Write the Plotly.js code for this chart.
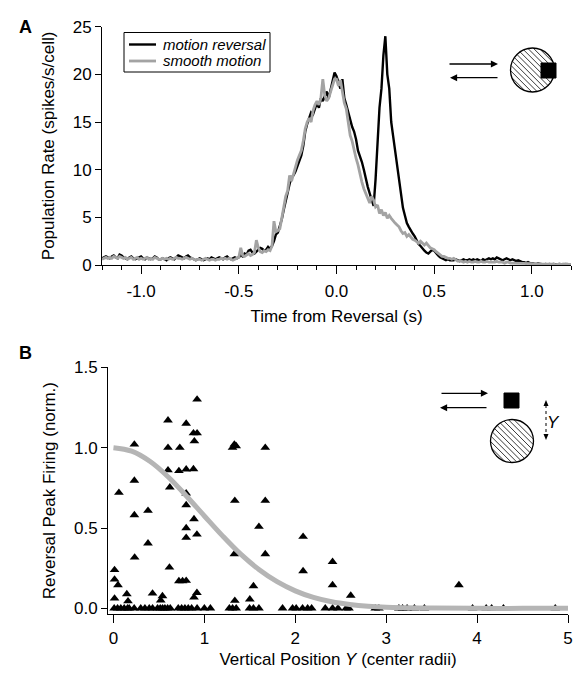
<!DOCTYPE html>
<html>
<head>
<meta charset="utf-8">
<script src="https://cdn.plot.ly/plotly-3.0.1.min.js"></script>
<style>html,body{margin:0;padding:0;background:#fff;}#chart{width:584px;height:676px;}</style>
</head>
<body>
<div id="chart"></div>
<script>
// ---------- Panel A data: population rate (spikes/s/cell), 10 ms bins from -1.20 s to 1.20 s ----------
const binStart = -1.2;
const binWidth = 0.01;
const motionReversal = [
  0.7,0.8,0.9,0.8,0.7,0.9,1.0,0.8,0.7,1.1,
  1.0,0.8,0.7,0.6,0.8,0.9,0.7,0.6,0.7,0.8,
  0.9,0.7,0.6,0.8,0.7,0.6,0.7,0.9,0.8,0.6,
  0.6,0.7,0.6,0.5,0.7,0.8,0.7,0.6,0.8,1.0,
  0.9,0.8,0.7,0.9,1.0,0.8,0.7,0.6,0.5,0.6,
  0.7,0.6,0.5,0.6,0.7,0.6,0.8,0.7,0.6,0.7,
  0.8,0.7,0.6,0.8,0.9,0.7,0.6,0.7,0.8,0.7,
  0.8,1.0,0.9,1.2,1.1,1.5,1.6,1.3,1.2,1.4,
  1.6,1.8,1.7,1.5,1.6,1.9,1.7,2.0,2.5,3.2,
  3.4,4.0,4.8,5.8,6.8,7.6,8.5,9.2,9.4,9.8,
  10.4,11.0,11.5,12.5,14.0,14.8,15.5,16.0,15.8,16.5,
  17.0,16.5,17.5,17.2,17.8,18.2,17.5,18.5,19.5,20.2,
  19.8,19.2,18.5,19.5,17.5,16.8,16.0,15.0,14.5,14.0,
  13.2,12.0,11.5,10.8,10.0,9.0,8.2,7.5,6.8,6.2,
  9.0,13.5,16.5,18.5,22.0,24.0,20.0,18.5,15.0,13.5,
  12.0,10.5,8.5,7.0,6.0,5.2,4.4,4.0,3.6,3.3,
  3.0,2.6,2.2,2.0,1.7,1.5,1.3,1.2,1.4,1.6,
  1.5,1.2,1.0,0.8,0.7,0.6,0.5,0.6,0.5,0.5,
  0.5,0.6,0.5,0.4,0.5,0.6,0.5,0.5,0.6,0.5,
  0.6,0.5,0.6,0.5,0.4,0.6,0.5,0.6,0.7,0.6,
  0.7,0.6,0.8,0.7,0.6,0.5,0.6,0.7,0.6,0.5,
  0.6,0.5,0.4,0.5,0.4,0.3,0.3,0.2,0.3,0.2,
  0.2,0.15,0.1,0.15,0.1,0.1,0.05,0.1,0.05,0.1,
  0.05,0.1,0.05,0.05,0.1,0.05,0.05,0.1,0.05,0.05,
  0.05
];
const smoothMotion = [
  0.6,0.7,0.8,0.7,0.8,0.7,0.9,0.8,0.7,0.9,
  0.8,0.7,0.8,0.6,0.7,0.8,0.6,0.7,0.8,0.6,
  0.7,0.6,0.7,0.8,0.6,0.7,0.6,0.8,0.7,0.6,
  0.6,0.7,0.6,0.7,0.6,0.7,0.6,0.7,0.8,0.7,
  0.7,0.6,0.7,0.8,0.7,0.6,0.7,0.6,0.5,0.6,
  0.6,0.5,0.6,0.7,0.6,0.5,0.6,0.6,0.5,0.6,
  0.6,0.7,0.6,0.7,0.6,0.7,0.6,0.5,0.6,0.7,
  0.8,1.8,1.0,0.9,1.1,1.2,1.0,1.1,1.3,2.6,
  1.8,1.4,1.3,1.5,1.4,1.6,1.5,2.0,4.6,3.5,
  3.6,3.8,4.9,6.2,7.2,7.8,9.4,8.8,9.6,10.5,
  11.0,11.5,12.0,13.0,14.3,15.0,15.4,15.0,16.2,16.8,
  17.2,16.8,17.5,19.5,17.8,17.2,17.5,18.2,19.0,19.5,
  19.5,18.8,19.4,18.0,17.0,16.4,15.0,13.6,13.0,12.0,
  11.2,10.5,9.5,8.7,8.0,7.5,7.2,6.5,7.2,6.8,
  6.1,6.3,5.4,5.8,5.2,5.5,4.9,5.2,4.9,4.6,
  4.4,4.2,4.0,3.6,3.3,3.4,3.0,3.2,2.9,2.7,
  2.6,2.4,2.3,2.5,2.3,2.1,2.3,2.0,1.8,1.7,
  1.6,1.4,1.2,1.0,0.9,0.9,0.8,0.7,0.7,0.6,
  0.7,0.5,0.4,0.4,0.4,0.3,0.4,0.3,0.4,0.3,
  0.3,0.4,0.3,0.3,0.4,0.3,0.3,0.4,0.3,0.3,
  0.3,0.3,0.4,0.3,0.3,0.3,0.2,0.3,0.3,0.2,
  0.2,0.2,0.2,0.2,0.15,0.2,0.15,0.15,0.2,0.15,
  0.15,0.1,0.15,0.1,0.1,0.15,0.1,0.1,0.1,0.1,
  0.1,0.1,0.05,0.1,0.1,0.05,0.1,0.05,0.1,0.05,
  0.05
];
const seriesNames = ['motion reversal', 'smooth motion'];
const seriesColors = ['#000000', '#a3a3a3'];
const timeTickVals = [-1.0, -0.5, 0.0, 0.5, 1.0];
const timeTickText = ['-1.0', '-0.5', '0.0', '0.5', '1.0'];
const rateTickVals = [0, 5, 10, 15, 20, 25];

// ---------- Panel B data: reversal peak firing vs vertical position ----------
const cellY = [
  0.92,0.60,0.80,0.88,0.92,0.89,0.23,0.60,0.73,1.31,1.33,1.35,1.67,
  0.60,0.72,0.80,0.88,0.23,0.62,0.06,0.80,0.80,1.335,1.67,0.23,0.38,0.886,0.80,1.60,0.918,0.80,2.086,0.38,
  1.33,1.67,0.233,2.41,0.012,0.616,2.086,0.012,0.72,0.76,0.80,0.05,1.54,2.41,3.80,0.147,0.43,0.918,0.539,
  2.61,0.012,0.886,1.335,1.50,0.16,0.52,
  0.008,0.045,0.081,0.118,0.155,0.173,0.228,0.30,0.346,0.394,0.43,0.485,0.515,0.54,0.566,0.596,0.625,
  0.713,0.75,0.786,0.823,0.86,0.92,1.0,1.066,1.275,1.31,1.35,1.497,1.54,1.60,1.86,1.97,2.01,2.08,
  2.136,2.18,2.33,2.41,2.47,2.56,2.59,2.88,2.92,3.14,3.18,3.23,3.31,3.42,3.95,4.10,4.16,4.29,4.86
];
const peakFiring = [
  1.30,1.17,1.15,1.09,1.09,1.04,1.02,1.00,1.00,1.00,1.02,1.01,1.00,
  0.86,0.855,0.865,0.867,0.795,0.753,0.72,0.716,0.643,0.67,0.67,0.581,0.608,0.556,0.50,0.508,0.46,0.44,0.446,0.405,
  0.338,0.338,0.317,0.29,0.239,0.255,0.232,0.18,0.17,0.17,0.172,0.145,0.139,0.145,0.145,0.089,0.093,0.097,0.077,
  0.08,0.062,0.068,0.048,0.056,0.045,0.05,
  0,0,0,0,0,0,0,0,0,0,0,0,0,0,0,0,0,
  0,0,0,0,0,0,0,0,0,0,0,0,0,0,0,0,0,0,
  0,0,0,0,0,0,0,0,0,0,0,0,0,0,0,0,0,0,0
];
const fitY = [0,0.2,0.4,0.6,0.8,1.0,1.2,1.4,1.6,1.8,2.0,2.2,2.4,2.6,2.8,3.0,3.5,4.0,4.5,5.0];
const fitPeak = [1.0,0.978,0.915,0.819,0.701,0.575,0.451,0.337,0.242,0.166,0.109,0.068,0.041,0.024,0.013,0.007,0.002,0.0,0.0,0.0];
const posTickVals = [0, 1, 2, 3, 4, 5];
const peakTickVals = [0, 0.5, 1.0, 1.5];
const peakTickText = ['0.0', '0.5', '1.0', '1.5'];

// ---------- helpers (figure pixels -> paper fractions) ----------
const W = 584, H = 676;
const px = x => x / W;
const py = y => 1 - y / H;
const FONT = 'Liberation Sans, Arial, Helvetica, sans-serif';

const binTimes = motionReversal.map((_, i) => +(binStart + i * binWidth).toFixed(2));

const traces = [
  { x: binTimes, y: motionReversal, xaxis: 'x', yaxis: 'y', type: 'scatter', mode: 'lines',
    name: seriesNames[0], showlegend: false, line: { color: seriesColors[0], width: 2.4 } },
  { x: binTimes, y: smoothMotion, xaxis: 'x', yaxis: 'y', type: 'scatter', mode: 'lines',
    name: seriesNames[1], showlegend: false, line: { color: seriesColors[1], width: 2.8 } },
  { x: cellY, y: peakFiring, xaxis: 'x2', yaxis: 'y2', type: 'scatter', mode: 'markers',
    name: 'cells', showlegend: false, cliponaxis: false,
    marker: { symbol: 'triangle-up', size: 8.5, color: '#000000', line: { width: 0 } } },
  { x: fitY, y: fitPeak, xaxis: 'x2', yaxis: 'y2', type: 'scatter', mode: 'lines',
    name: 'fit', showlegend: false, line: { color: '#b5b5b5', width: 5, shape: 'spline' } }
];

const axisCommon = {
  showline: true, linecolor: '#000', linewidth: 1, ticks: 'outside', tickcolor: '#000',
  tickwidth: 1, showgrid: false, zeroline: false, automargin: false,
  tickfont: { family: FONT, size: 17, color: '#000' }, fixedrange: true
};

// ---------- icon + legend shapes ----------
const shapes = [];
function hatchedCircle(cx, cy, r) {
  shapes.push({ type: 'circle', xref: 'paper', yref: 'paper', x0: px(cx - r), x1: px(cx + r),
    y0: py(cy + r), y1: py(cy - r), fillcolor: '#fff', line: { width: 0 } });
  const s2 = Math.SQRT1_2;
  for (let d = -r + 2; d < r - 1; d += 4) {
    const half = Math.sqrt(r * r - d * d);
    const ox = cx + d * s2, oy = cy - d * s2;
    shapes.push({ type: 'line', xref: 'paper', yref: 'paper',
      x0: px(ox - half * s2), y0: py(oy - half * s2), x1: px(ox + half * s2), y1: py(oy + half * s2),
      line: { color: '#222', width: 0.9 } });
  }
  shapes.push({ type: 'circle', xref: 'paper', yref: 'paper', x0: px(cx - r), x1: px(cx + r),
    y0: py(cy + r), y1: py(cy - r), line: { color: '#000', width: 1.3 } });
}
function square(x0, y0, x1, y1) {
  shapes.push({ type: 'rect', xref: 'paper', yref: 'paper', x0: px(x0), x1: px(x1), y0: py(y1), y1: py(y0),
    fillcolor: '#000', line: { color: '#000', width: 1 } });
}
hatchedCircle(532.5, 70, 22);
square(541, 63, 556, 78);
hatchedCircle(512, 441, 21.5);
square(504, 393, 519, 408);
// dotted double arrow (Y)
shapes.push({ type: 'line', xref: 'paper', yref: 'paper', x0: px(546), x1: px(546), y0: py(405), y1: py(435),
  line: { color: '#000', width: 1, dash: 'dot' } });
shapes.push({ type: 'path', xref: 'paper', yref: 'paper', fillcolor: '#000', line: { width: 0 },
  path: `M ${px(543.5)},${py(406)} L ${px(546)},${py(400)} L ${px(548.5)},${py(406)} Z` });
shapes.push({ type: 'path', xref: 'paper', yref: 'paper', fillcolor: '#000', line: { width: 0 },
  path: `M ${px(543.5)},${py(434)} L ${px(546)},${py(440)} L ${px(548.5)},${py(434)} Z` });

// legend box (panel A)
shapes.push({ type: 'rect', xref: 'paper', yref: 'paper', x0: px(124), x1: px(270), y0: py(72), y1: py(32.5),
  fillcolor: '#fff', line: { color: '#000', width: 1 } });
const legendRows = [44.5, 61];
seriesNames.forEach((nm, i) => {
  shapes.push({ type: 'line', xref: 'paper', yref: 'paper', x0: px(129), x1: px(156),
    y0: py(legendRows[i]), y1: py(legendRows[i]), line: { color: seriesColors[i], width: i ? 2.8 : 2.4 } });
});

function arrow(hx, hy, tailDx) {
  return { xref: 'paper', yref: 'paper', x: px(hx), y: py(hy), ax: tailDx, ay: 0, text: '',
    showarrow: true, arrowhead: 2, arrowsize: 1.1, arrowwidth: 1.3, arrowcolor: '#000', standoff: 0 };
}

const annotations = [
  { xref: 'paper', yref: 'paper', x: px(17), y: py(15), text: '<b>A</b>', showarrow: false,
    font: { family: FONT, size: 18, color: '#000' } },
  { xref: 'paper', yref: 'paper', x: px(17), y: py(353), text: '<b>B</b>', showarrow: false,
    font: { family: FONT, size: 18, color: '#000' } },
  arrow(498, 64, -50), arrow(450, 77.7, 49),
  arrow(488, 393.3, -48), arrow(440, 407.7, 48),
  { xref: 'paper', yref: 'paper', x: px(562), y: py(422), text: '<i>Y</i>', showarrow: false,
    font: { family: FONT, size: 17, color: '#000' } }
];
seriesNames.forEach((nm, i) => {
  annotations.push({ xref: 'paper', yref: 'paper', x: px(161), y: py(legendRows[i]), xanchor: 'left', yanchor: 'middle',
    text: '<i>' + nm + '</i>', showarrow: false, font: { family: FONT, size: 15, color: '#000' } });
});

const layout = {
  width: W, height: H,
  margin: { l: 0, r: 0, t: 0, b: 0, pad: 0 },
  paper_bgcolor: '#fff', plot_bgcolor: '#fff',
  font: { family: FONT, color: '#000' },
  showlegend: false,
  xaxis: Object.assign({}, axisCommon, {
    domain: [px(102), px(571)], anchor: 'y', range: [-1.2, 1.2],
    tickmode: 'array', tickvals: timeTickVals, ticktext: timeTickText, ticklen: 8, ticklabelstandoff: 3,
    minor: { tickmode: 'linear', tick0: 0, dtick: 0.1, ticks: 'outside', ticklen: 4, tickcolor: '#000', tickwidth: 1, showgrid: false },
    title: { text: 'Time from Reversal (s)', font: { family: FONT, size: 17, color: '#000' }, standoff: 9 }
  }),
  yaxis: Object.assign({}, axisCommon, {
    domain: [py(265), py(26.7)], anchor: 'x', range: [0, 25],
    tickmode: 'array', tickvals: rateTickVals, ticklen: 6,
    title: { text: 'Population Rate (spikes/s/cell)', font: { family: FONT, size: 17, color: '#000' }, standoff: 13 }
  }),
  xaxis2: Object.assign({}, axisCommon, {
    domain: [px(108), px(568)], anchor: 'y2', range: [-0.06, 5.0],
    tickmode: 'array', tickvals: posTickVals, ticklen: 8, ticklabelstandoff: 1,
    title: { text: 'Vertical Position <i>Y</i> (center radii)', font: { family: FONT, size: 17, color: '#000' }, standoff: 5 }
  }),
  yaxis2: Object.assign({}, axisCommon, {
    domain: [py(614), py(367.3)], anchor: 'x2', range: [-0.035, 1.5],
    tickmode: 'array', tickvals: peakTickVals, ticktext: peakTickText, ticklen: 6,
    title: { text: 'Reversal Peak Firing (norm.)', font: { family: FONT, size: 17, color: '#000' }, standoff: 13 }
  }),
  shapes: shapes,
  annotations: annotations
};

Plotly.newPlot('chart', traces, layout, { staticPlot: true, displayModeBar: false });
</script>
</body>
</html>
